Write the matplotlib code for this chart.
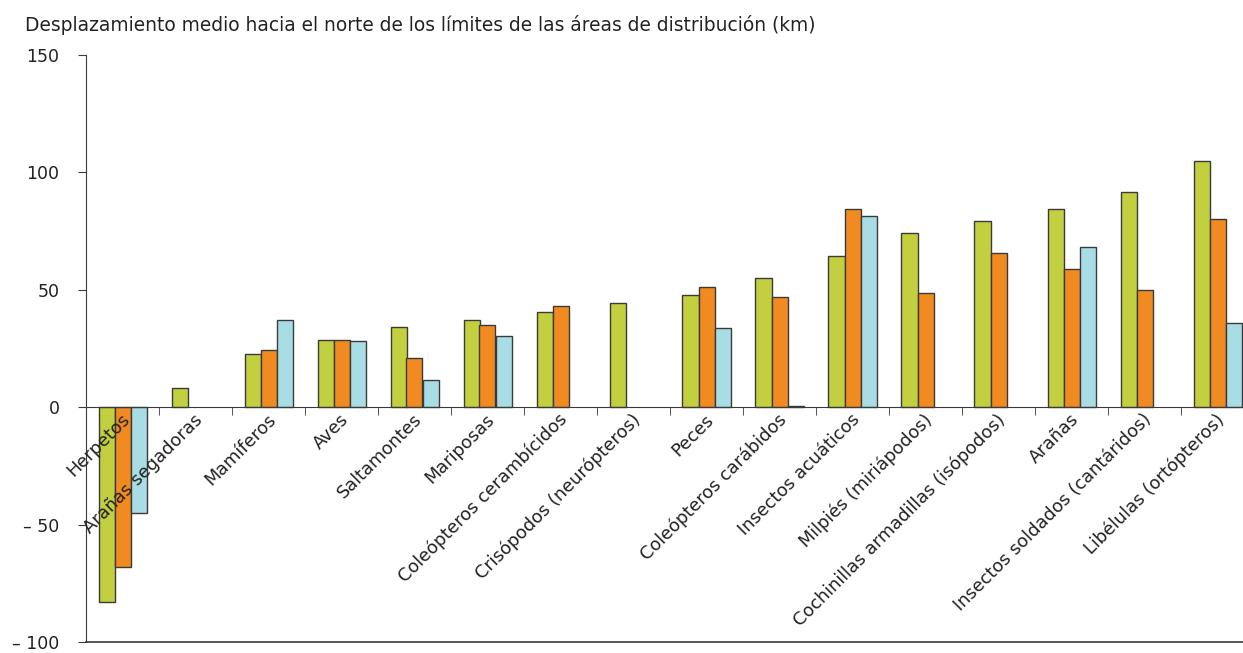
import matplotlib
matplotlib.use("Agg")
import matplotlib.pyplot as plt
import numpy as np
from matplotlib.ticker import FixedLocator

categories = ["Herpetos", "Arañas segadoras", "Mamíferos", "Aves", "Saltamontes",
              "Mariposas", "Coleópteros cerambícidos", "Crisópodos (neurópteros)",
              "Peces", "Coleópteros carábidos", "Insectos acuáticos",
              "Milpiés (miriápodos)", "Cochinillas armadillas (isópodos)", "Arañas",
              "Insectos soldados (cantáridos)", "Libélulas (ortópteros)"]
series1 = [-83, 8, 22.5, 28.5, 34, 37, 40.5, 44.5, 47.7, 55.2, 64.4, 74.1, 79.1, 84.3, 91.7, 104.8]
series2 = [-68, None, 24.5, 28.5, 21, 35, 43, None, 51, 47.1, 84.2, 48.6, 65.6, 58.9, 50, 80]
series3 = [-45, None, 37, 28.3, 11.5, 30.5, None, None, 33.6, 0.5, 81.5, None, None, 68.1, None, 35.9]
yticks = [150, 100, 50, 0, -50, -100]
ytick_labels = ["150", "100", "50", "0", "– 50", "– 100"]
title = "Desplazamiento medio hacia el norte de los límites de las áreas de distribución (km)"

colors = ["#c2cf3e", "#f18a21", "#a9dde5"]
edge = "#3a3a3a"
W, H = 1243, 653
fig = plt.figure(figsize=(W / 100, H / 100), dpi=100)
ax = fig.add_axes([86 / W, 11 / H, 1168 / W, 587 / H])

n = len(categories)
bw = 16 / 73
x = np.arange(n) + 0.5
for k, s in enumerate([series1, series2, series3]):
    xs = [xi + (k - 1) * bw for xi, v in zip(x, s) if v is not None]
    vs = [v for v in s if v is not None]
    ax.bar(xs, vs, width=bw, color=colors[k], edgecolor=edge, linewidth=1.0, zorder=2)

ax.set_xlim(0, n)
ax.set_ylim(-100, 150)

for sp in ["top", "right"]:
    ax.spines[sp].set_visible(False)
ax.spines["bottom"].set_position(("data", 0))
ax.spines["bottom"].set_color(edge)
ax.spines["left"].set_color(edge)
ax.axhline(-100, color=edge, lw=1.2, clip_on=False, zorder=3)
ax.xaxis.set_zorder(3)

ax.set_yticks(yticks)
ax.set_yticklabels(ytick_labels, fontsize=12.5, color="#222222")
ax.tick_params(axis="y", direction="out", length=6, color=edge, pad=13)
for lab in ax.get_yticklabels():
    lab.set_horizontalalignment("right")

ax.set_xticks(x + 0.06)
ax.set_xticklabels(categories, rotation=45, ha="right", va="center",
                   rotation_mode="anchor", fontsize=12.8, color="#222222")
ax.xaxis.set_minor_locator(FixedLocator(np.arange(n)))
ax.tick_params(axis="x", which="major", length=0, pad=7)
ax.tick_params(axis="x", which="minor", length=6, direction="out", color=edge)

fig.text(25 / W, 1 - 25 / H, title, fontsize=13.45, color="#222222", va="center", ha="left")

fig.savefig("out.png", dpi=100)
